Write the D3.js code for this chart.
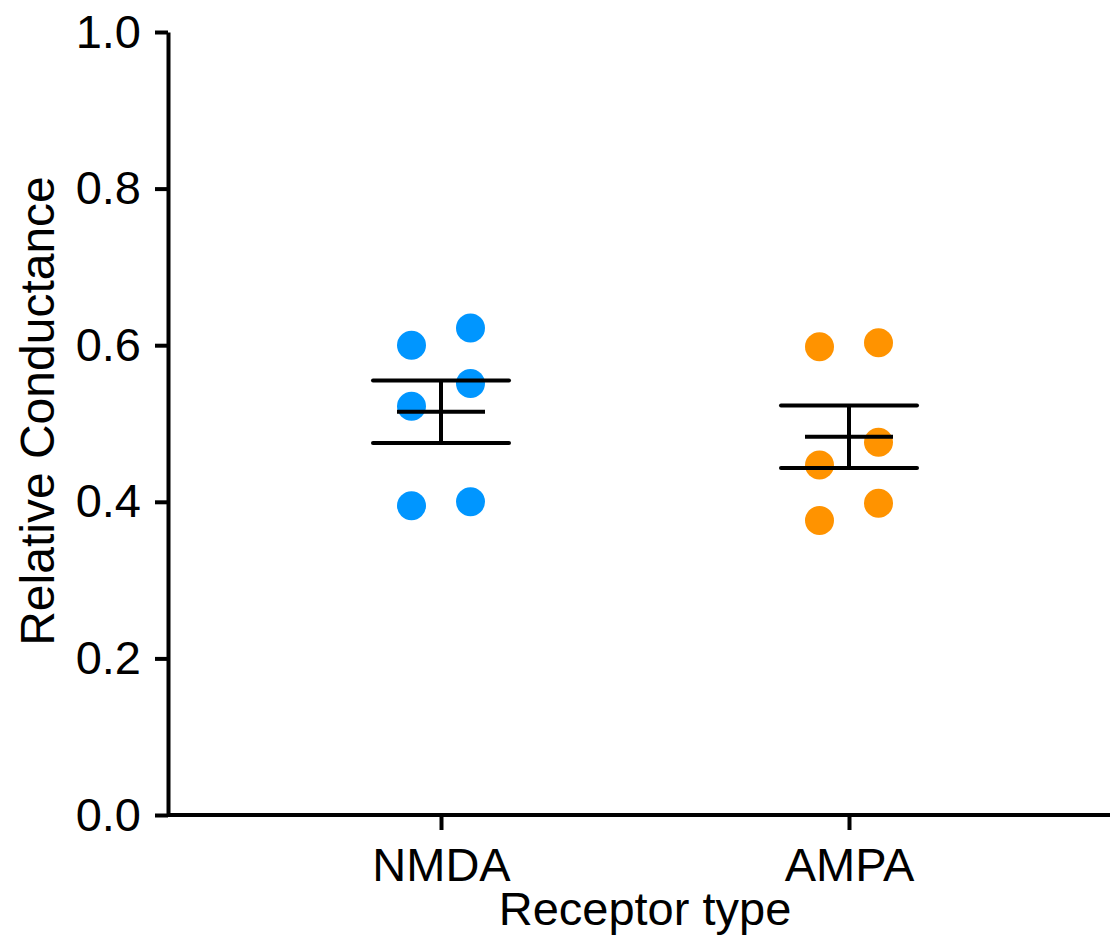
<!DOCTYPE html>
<html>
<head>
<meta charset="utf-8">
<script src="https://cdn.jsdelivr.net/npm/d3@7"></script>
<style>
  body { margin: 0; background: #fff; }
  text { font-family: "Liberation Sans", Arial, sans-serif; fill: #000; }
</style>
</head>
<body>
<div id="container"></div>
<script>
/* CONSTANTS AND GLOBALS */
const width = 1110,
  height = 936,
  margin = { top: 32, bottom: 121, left: 168, right: 0 };

/* DATA */
const categories = ["NMDA", "AMPA"];
const nmdaValues = [0.600, 0.622, 0.551, 0.522, 0.395, 0.400];
const ampaValues = [0.598, 0.603, 0.476, 0.447, 0.376, 0.398];
const side = [-1, 1, 1, -1, -1, 1]; // left/right column of each dot
const yTicks = [0, 0.2, 0.4, 0.6, 0.8, 1.0];
const colors = ["#0096ff", "#ff9300"];

const groups = [
  { name: categories[0], values: nmdaValues, color: colors[0] },
  { name: categories[1], values: ampaValues, color: colors[1] }
];

/* SCALES */
const xScale = d3.scalePoint()
  .domain(categories)
  .range([441, 849]);

const yScale = d3.scaleLinear()
  .domain([0, 1])
  .range([height - margin.bottom, margin.top]);

const svg = d3.select("#container")
  .append("svg")
  .attr("width", width)
  .attr("height", height);

/* AXES */
const yAxis = d3.axisLeft(yScale)
  .tickValues(yTicks)
  .tickFormat(d3.format(".1f"))
  .tickSize(13)
  .tickPadding(14)
  .tickSizeOuter(0);

const xAxis = d3.axisBottom(xScale)
  .tickSize(15)
  .tickPadding(18)
  .tickSizeOuter(0);

const gx = svg.append("g")
  .attr("transform", `translate(0,${height - margin.bottom})`)
  .call(xAxis);
gx.select(".domain").attr("d", `M${margin.left},0H${width}`);

const gy = svg.append("g")
  .attr("transform", `translate(${margin.left},0)`)
  .call(yAxis);

svg.selectAll(".domain, .tick line")
  .attr("stroke", "#000")
  .attr("stroke-width", 4);
svg.selectAll(".tick text")
  .style("font-size", "47px")
  .style("font-family", "Liberation Sans, Arial, sans-serif");

// axis titles
svg.append("text")
  .attr("x", 645)
  .attr("y", 925)
  .attr("text-anchor", "middle")
  .style("font-size", "47px")
  .text("Receptor type");

svg.append("text")
  .attr("transform", "translate(54,411) rotate(-90)")
  .attr("text-anchor", "middle")
  .style("font-size", "48px")
  .text("Relative Conductance");

/* DOTS */
groups.forEach(g => {
  svg.selectAll(null)
    .data(g.values)
    .join("circle")
    .attr("cx", (d, i) => xScale(g.name) + side[i] * 29.5)
    .attr("cy", d => yScale(d))
    .attr("r", 14.5)
    .style("fill", g.color);
});

/* MEAN +/- SEM */
groups.forEach(g => {
  const m = d3.mean(g.values);
  const sem = d3.deviation(g.values) / Math.sqrt(g.values.length);
  const cx = xScale(g.name);
  const eb = svg.append("g")
    .attr("stroke", "#000")
    .attr("stroke-width", 4);
  eb.append("line")
    .attr("x1", cx).attr("x2", cx)
    .attr("y1", yScale(m + sem)).attr("y2", yScale(m - sem));
  [m + sem, m - sem].forEach(v => {
    eb.append("line")
      .attr("x1", cx - 68).attr("x2", cx + 68)
      .attr("y1", yScale(v)).attr("y2", yScale(v))
      .attr("stroke-linecap", "round");
  });
  eb.append("line")
    .attr("x1", cx - 44).attr("x2", cx + 44)
    .attr("y1", yScale(m)).attr("y2", yScale(m));
});
</script>
</body>
</html>
